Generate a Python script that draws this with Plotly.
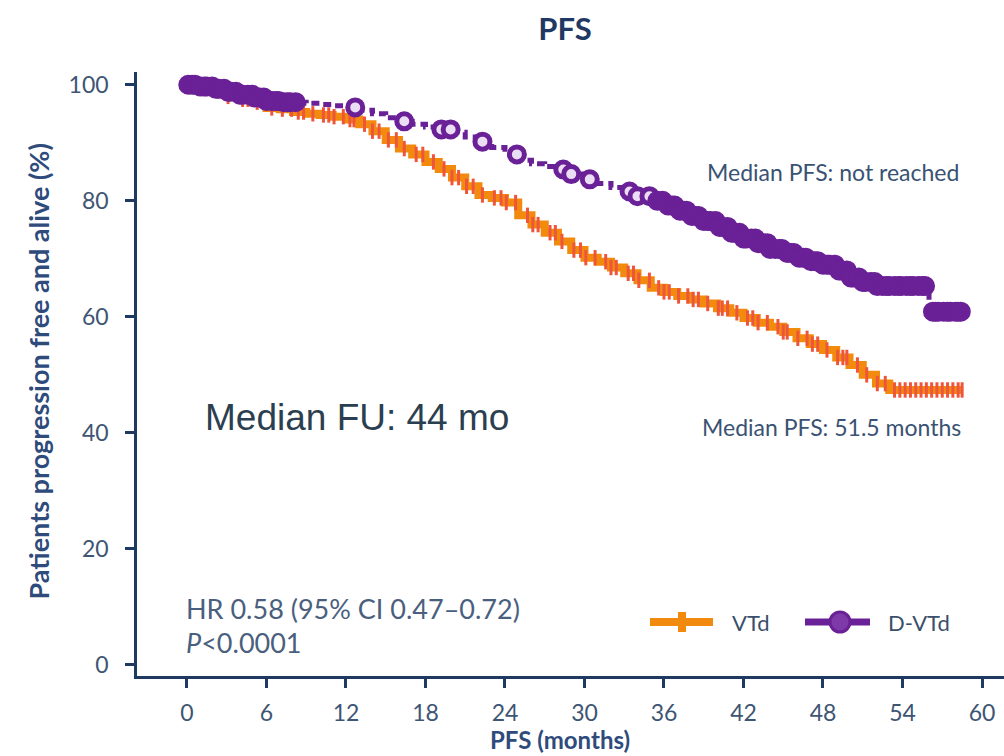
import numpy as np
import plotly.graph_objects as go

# ---- Kaplan-Meier step estimates (months, % progression free and alive) ----
vtd_time = [0, 1, 2, 3, 4, 5, 6, 7, 8, 9, 10, 11, 12, 13, 14, 15, 16, 17, 18, 19,
            20, 21, 22, 23, 24, 25, 26, 27, 28, 29, 30, 31, 32, 33, 34, 35, 36, 37,
            38, 39, 40, 41, 42, 43, 44, 45, 46, 47, 48, 49, 50, 51, 52, 53, 58.5]
vtd_surv = [100, 99.5, 99, 98, 97.5, 97, 96, 95.8, 95.3, 95, 94.8, 94.5, 94, 93.2,
            92, 90.5, 89, 88, 86.7, 85.5, 84, 82.5, 81, 80.5, 79.7, 77.5, 75.9, 74.5,
            73, 71.5, 70.2, 69.5, 68.5, 67.5, 66.3, 65, 64.3, 63.6, 63, 62.3, 61.5,
            60.7, 59.8, 59, 58.3, 57.4, 56.3, 55.3, 54.3, 53, 51.7, 50, 48.5, 47.4, 47.4]

dvtd_time = [0, 1, 2, 3, 4, 5, 6, 7, 8, 9, 10, 11, 12, 13, 14, 15, 16, 17, 18, 19,
             20, 21, 22, 23, 24, 25, 26, 27, 28, 29, 30, 31, 32, 33, 34, 35, 36, 37,
             38, 39, 40, 41, 42, 43, 44, 45, 46, 47, 48, 49, 50, 51, 52, 56, 58.5]
dvtd_surv = [100, 99.7, 99.3, 98.8, 98.3, 97.8, 97.2, 97, 97, 96.8, 96.6, 96.4, 96.1,
             95.6, 95, 94.3, 93.7, 93.2, 92.7, 92.3, 91.8, 91, 90.2, 89.2, 88, 87, 86.4,
             85.9, 85.4, 84.6, 83.7, 83, 82.3, 81.6, 80.8, 80, 79.2, 78.3, 77.4, 76.5,
             75.5, 74.5, 73.5, 72.7, 71.7, 71, 70.2, 69.6, 69, 68, 66.8, 66, 65.3, 60.9, 60.9]

# censoring times (months)
vtd_censor = [1.2, 1.8, 2.4, 3.1, 3.8, 4.2, 4.6, 5.3, 5.9, 6.4, 7.2, 7.9, 8.4, 8.8, 9.5,
              10.3, 10.7, 11.1, 11.8, 12.3, 12.6, 13.4, 14.0, 14.5, 15.2, 15.8, 16.4,
              17.3, 17.8, 18.6, 19.4, 20.0, 20.5, 21.1, 21.6, 22.3, 23.2, 23.7, 24.1,
              24.8, 25.7, 26.1, 26.5, 27.4, 27.8, 28.3, 29.2, 29.7, 30.1, 30.8, 31.6,
              32.0, 32.4, 33.3, 33.7, 34.1, 34.9, 35.6, 36.0, 36.4, 37.1, 37.8, 38.2,
              38.6, 39.3, 40.1, 40.4, 40.8, 41.5, 42.3, 42.7, 43.1, 43.8, 44.6, 45.0,
              45.3, 46.1, 46.8, 47.2, 47.6, 48.3, 49.1, 49.5, 49.8, 50.6, 51.3, 52.1,
              52.7, 53.4, 53.8, 54.2, 54.6, 55.0, 55.4, 55.8, 56.2, 56.6, 57.0, 57.4,
              57.8, 58.2, 58.5]
dvtd_censor = [0.1, 0.4, 0.6, 1.0, 1.3, 1.5, 1.9, 2.2, 2.4, 2.8, 3.1, 3.3, 3.7, 4.0,
               4.2, 4.6, 4.9, 5.1, 5.5, 5.8, 6.0, 6.4, 6.7, 6.9, 7.3, 7.6, 7.8, 8.2,
               12.7, 16.4, 19.2, 19.9, 22.3, 24.9, 28.4, 29.0, 30.4, 33.4, 34.0, 34.9,
               35.5, 35.9, 36.3, 36.6, 36.8, 37.2, 37.5, 37.7, 38.1, 38.4, 38.6, 39.0,
               39.3, 39.5, 39.9, 40.2, 40.4, 40.8, 41.1, 41.3, 41.7, 42.0, 42.2, 42.6,
               42.9, 43.1, 43.5, 43.8, 44.0, 44.4, 44.7, 44.9, 45.3, 45.6, 45.8, 46.2,
               46.5, 46.7, 47.1, 47.4, 47.6, 48.0, 48.3, 48.5, 48.9, 49.2, 49.4, 49.8,
               50.1, 50.3, 50.7, 51.0, 51.2, 51.6, 51.9, 52.1, 52.5, 52.8, 53.0, 53.4,
               53.7, 53.9, 54.3, 54.6, 54.8, 55.2, 55.5, 55.7, 56.3, 56.5, 56.7, 57.1,
               57.4, 57.6, 58.0, 58.2, 58.4]

x_ticks = [0, 6, 12, 18, 24, 30, 36, 42, 48, 54, 60]
y_ticks = [0, 20, 40, 60, 80, 100]

ORANGE = "#F28A0E"
PURPLE = "#6A2096"
PALE = "#EBDDF3"
NAVY = "#1F3A60"
TEXT = "#3E5573"


def step_value(times, surv, t):
    """Value of a right-continuous step function at time t."""
    idx = np.searchsorted(np.asarray(times), t, side="right") - 1
    return np.asarray(surv)[idx]


# censor circles packed closely together merge into a solid band
dc = np.asarray(dvtd_censor)
gaps = np.minimum(np.diff(dc, prepend=-np.inf), np.diff(dc, append=np.inf))
circle_fill = [PURPLE if g < 0.5 else PALE for g in gaps]

fig = go.Figure()

# VTd curve + censor ticks
fig.add_trace(go.Scatter(x=vtd_time, y=vtd_surv, mode="lines", line_shape="hv",
                         line=dict(color=ORANGE, width=8), showlegend=False,
                         hoverinfo="skip"))
fig.add_trace(go.Scatter(x=vtd_censor, y=step_value(vtd_time, vtd_surv, vtd_censor),
                         mode="markers", showlegend=False, hoverinfo="skip",
                         marker=dict(symbol="line-ns-open", size=11,
                                     line=dict(color=ORANGE, width=3))))

# D-VTd curve + censor circles
fig.add_trace(go.Scatter(x=dvtd_time, y=dvtd_surv, mode="lines", line_shape="hv",
                         line=dict(color=PURPLE, width=5, dash="8px,5px"),
                         showlegend=False, hoverinfo="skip"))
fig.add_trace(go.Scatter(x=dvtd_censor, y=step_value(dvtd_time, dvtd_surv, dvtd_censor),
                         mode="markers", showlegend=False, hoverinfo="skip",
                         marker=dict(symbol="circle", size=15, color=circle_fill,
                                     line=dict(color=PURPLE, width=5))))

# plot area: x 137..1004 px, y 72..676 px
W, H = 1004, 756
L, R, T, B = 137, 0, 72, 80
pw, ph = W - L - R, H - T - B


def px(x):
    return (x - L) / pw


def py(y):
    return (H - B - y) / ph


fig.update_layout(
    width=W, height=H,
    margin=dict(l=L, r=R, t=T, b=B),
    paper_bgcolor="white", plot_bgcolor="white",
    font=dict(family="Lato", color=TEXT),
    title=dict(text="<b>PFS</b>", x=565 / W, xanchor="center", y=1 - 29 / H,
               yanchor="middle", font=dict(size=31, color="#1F3864", family="Lato")),
    xaxis=dict(range=[-3.77, 61.66], tickvals=x_ticks, ticks="outside", ticklen=9,
               tickwidth=2.5, tickcolor=NAVY, showline=True, linecolor=NAVY,
               linewidth=2.5, showgrid=False, zeroline=False,
               tickfont=dict(size=23, color=TEXT), ticklabelstandoff=6),
    yaxis=dict(range=[-1.9, 102.2], tickvals=y_ticks, ticks="outside", ticklen=9,
               tickwidth=2.5, tickcolor=NAVY, showline=True, linecolor=NAVY,
               linewidth=2.5, showgrid=False, zeroline=False,
               tickfont=dict(size=23, color=TEXT), ticklabelstandoff=12),
    showlegend=False,
)

annotations = [
    dict(text="<b>Patients progression free and alive (%)</b>", x=px(19), y=py(372),
         textangle=-90, font=dict(size=27, color="#2F4B7C")),
    dict(text="<b>PFS (months)</b>", x=px(560), y=py(739),
         font=dict(size=24, color="#2F4B7C")),
    dict(text="Median PFS: not reached", x=px(961), y=py(172), xanchor="right",
         font=dict(size=23, color="#3A5273")),
    dict(text="Median PFS: 51.5 months", x=px(963), y=py(427), xanchor="right",
         font=dict(size=23, color="#3A5273")),
    dict(text="Median FU: 44 mo", x=px(203), y=py(418), xanchor="left",
         font=dict(size=37, color="#2B3F50", family="Liberation Sans, Arial")),
    dict(text="HR 0.58 (95% CI 0.47–0.72)", x=px(184), y=py(608), xanchor="left",
         font=dict(size=27, color="#4A5F7E")),
    dict(text="<i>P</i><0.0001", x=px(184), y=py(642), xanchor="left",
         font=dict(size=27, color="#4A5F7E")),
    dict(text="VTd", x=px(730), y=py(622), xanchor="left",
         font=dict(size=22, color="#3A4F6A")),
    dict(text="D-VTd", x=px(886), y=py(622), xanchor="left",
         font=dict(size=22, color="#3A4F6A")),
]
for a in annotations:
    a.setdefault("xref", "paper")
    a.setdefault("yref", "paper")
    a.setdefault("showarrow", False)
    a.setdefault("yanchor", "middle")
    fig.add_annotation(**a)

# legend samples
shapes = [
    dict(type="line", x0=px(650), x1=px(713), y0=py(622), y1=py(622),
         line=dict(color=ORANGE, width=8)),
    dict(type="rect", x0=px(678), x1=px(686), y0=py(632), y1=py(612),
         line=dict(width=0), fillcolor=ORANGE),
    dict(type="line", x0=px(805), x1=px(870), y0=py(622), y1=py(622),
         line=dict(color=PURPLE, width=7)),
    dict(type="circle", x0=px(830), x1=px(850), y0=py(632), y1=py(612),
         line=dict(color=PURPLE, width=3), fillcolor="#7E3AA8"),
]
for s in shapes:
    s.update(xref="paper", yref="paper")
    fig.add_shape(**s)

fig.write_html("out.html")
